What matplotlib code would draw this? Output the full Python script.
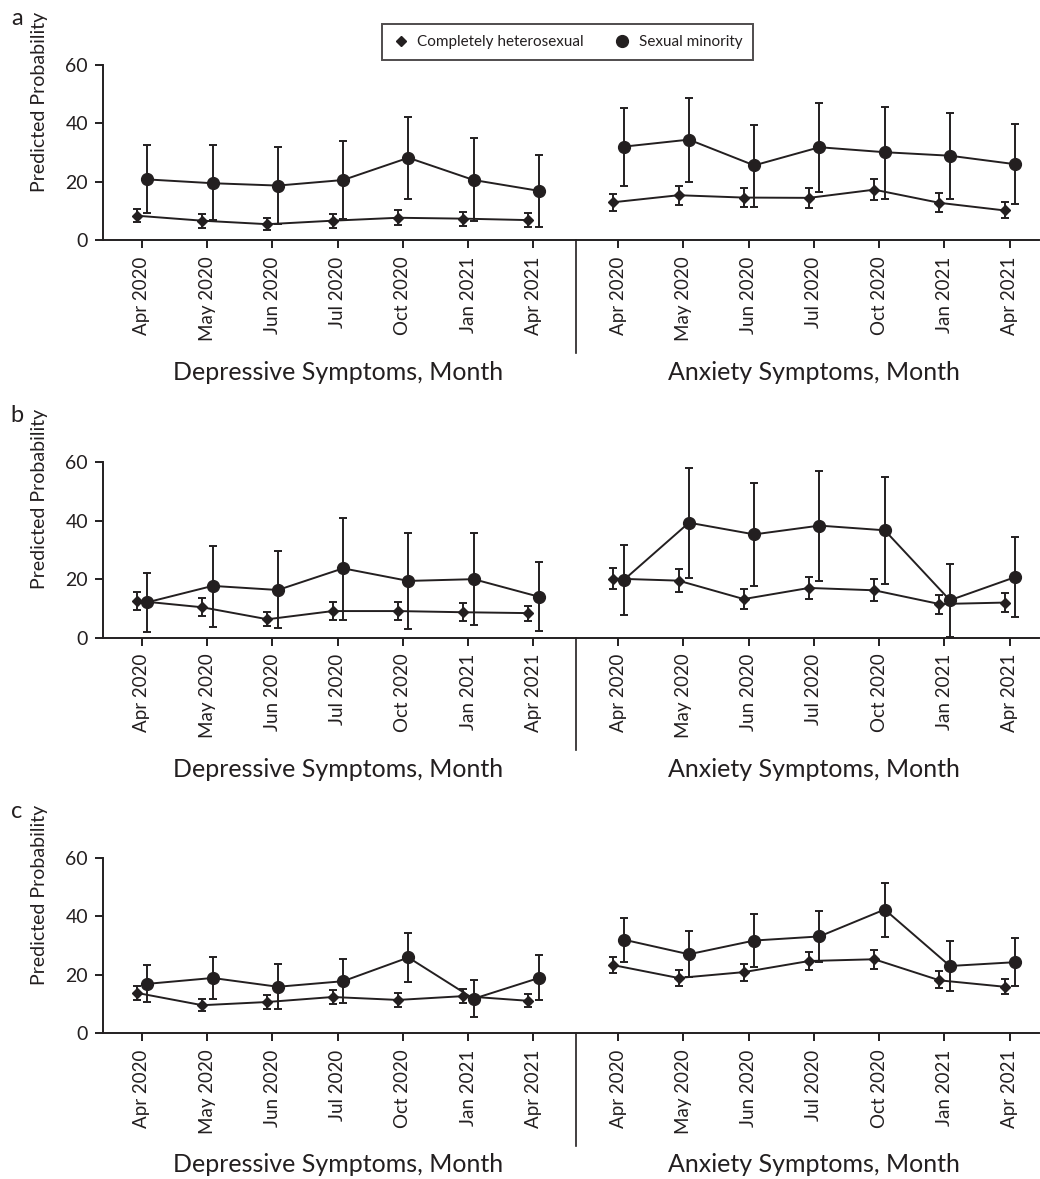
import matplotlib
matplotlib.use("Agg")
import matplotlib.pyplot as plt
import matplotlib.transforms as mtransforms
from matplotlib.lines import Line2D
import numpy as np

plt.rcParams['font.family'] = ['Lato', 'DejaVu Sans']

months = ['Apr 2020', 'May 2020', 'Jun 2020', 'Jul 2020', 'Oct 2020', 'Jan 2021', 'Apr 2021']
groups = ['Depressive Symptoms, Month', 'Anxiety Symptoms, Month']
series_names = ['Completely heterosexual', 'Sexual minority']
panel_names = ['a', 'b', 'c']

# first 7 values = depressive, last 7 = anxiety
a_het = [8.4, 6.7, 5.5, 6.7, 7.7, 7.4, 6.9, 13.0, 15.4, 14.6, 14.5, 17.3, 12.8, 10.2]
a_het_lo = [6.1, 4.3, 3.5, 4.2, 5.1, 4.9, 4.6, 10.1, 12.1, 11.4, 11.0, 13.7, 9.7, 7.7]
a_het_hi = [10.8, 9.0, 7.6, 9.0, 10.2, 9.7, 9.4, 15.8, 18.7, 17.8, 17.8, 20.9, 16.1, 13.1]
a_sm = [20.8, 19.5, 18.7, 20.6, 28.2, 20.6, 16.9, 32.0, 34.4, 25.6, 31.8, 30.1, 28.9, 26.0]
a_sm_lo = [9.4, 6.8, 5.5, 7.2, 14.2, 6.5, 4.6, 18.7, 20.0, 11.5, 16.6, 14.2, 14.1, 12.3]
a_sm_hi = [32.6, 32.4, 31.9, 33.9, 42.1, 35.1, 29.1, 45.2, 48.5, 39.5, 46.8, 45.6, 43.4, 39.6]

b_het = [12.6, 10.4, 6.3, 9.1, 9.1, 8.7, 8.4, 20.2, 19.5, 13.2, 17.0, 16.2, 11.5, 12.0]
b_het_lo = [9.6, 7.3, 3.9, 6.0, 6.0, 5.8, 5.8, 16.5, 15.6, 9.9, 13.3, 12.4, 8.2, 8.8]
b_het_hi = [15.6, 13.6, 8.9, 12.2, 12.2, 11.9, 10.8, 23.8, 23.4, 16.6, 20.7, 20.0, 14.7, 15.3]
b_sm = [12.1, 17.7, 16.3, 23.7, 19.4, 20.0, 14.0, 19.7, 39.3, 35.3, 38.3, 36.7, 12.8, 20.7]
b_sm_lo = [2.0, 3.8, 3.3, 6.1, 2.9, 4.3, 2.3, 7.6, 20.4, 17.8, 19.4, 18.2, 0.2, 7.0]
b_sm_hi = [22.1, 31.4, 29.6, 41.0, 35.9, 35.9, 25.9, 31.7, 57.9, 52.7, 57.0, 55.0, 25.2, 34.5]

c_het = [13.8, 9.6, 10.7, 12.4, 11.4, 12.7, 11.1, 23.3, 18.9, 20.9, 24.7, 25.3, 18.1, 15.9]
c_het_lo = [11.4, 7.5, 8.3, 9.9, 9.1, 10.2, 9.0, 20.5, 16.0, 17.8, 21.5, 21.9, 15.4, 13.4]
c_het_hi = [16.1, 11.8, 13.0, 14.8, 13.8, 15.0, 13.4, 26.1, 21.5, 23.8, 27.9, 28.6, 21.2, 18.7]
c_sm = [16.9, 18.9, 15.9, 17.8, 25.9, 11.8, 18.9, 32.0, 27.0, 31.7, 33.1, 42.3, 23.0, 24.3]
c_sm_lo = [10.6, 11.7, 8.3, 10.4, 17.4, 5.4, 11.3, 24.4, 19.2, 22.7, 24.5, 33.0, 14.5, 16.0]
c_sm_hi = [23.4, 26.0, 23.6, 25.3, 34.2, 18.2, 26.8, 39.5, 34.8, 40.6, 41.9, 51.5, 31.4, 32.7]

panels = [
    (a_het, a_het_lo, a_het_hi, a_sm, a_sm_lo, a_sm_hi),
    (b_het, b_het_lo, b_het_hi, b_sm, b_sm_lo, b_sm_hi),
    (c_het, c_het_lo, c_het_hi, c_sm, c_sm_lo, c_sm_hi),
]

ink = '#231f20'
gap = 1.3
n = len(months)
pos = np.concatenate([np.arange(n), np.arange(n) + n - 1 + gap])
sep_x = n - 1 + gap / 2

fig = plt.figure(figsize=(10.4, 11.79), dpi=100)
W, H = 1040, 1179
bottoms_px = [240.3, 637.7, 1033.3]
height_px = 175.6
left_px = 102.7
ax_w = (1039 - left_px) / W

for k, (het, het_lo, het_hi, sm, sm_lo, sm_hi) in enumerate(panels):
    ax = fig.add_axes([left_px / W, 1 - bottoms_px[k] / H, ax_w, height_px / H])
    for name, y, lo, hi, mk, ms, off in [
        (series_names[0], het, het_lo, het_hi, 'D', 5.5, -0.075),
        (series_names[1], sm, sm_lo, sm_hi, 'o', 8.5, 0.085),
    ]:
        y = np.array(y)
        lo = np.array(lo)
        hi = np.array(hi)
        for sl in [slice(0, n), slice(n, 2 * n)]:
            ax.errorbar(pos[sl] + off, y[sl], yerr=[y[sl] - lo[sl], hi[sl] - y[sl]],
                        fmt=mk, ms=ms, color=ink, ls='-', lw=1.4, elinewidth=1.4,
                        capsize=3.2, capthick=1.4, clip_on=False, zorder=3)
    ax.set_ylim(0, 60)
    ax.set_xlim(-0.6, 13.75)
    ax.set_yticks([0, 20, 40, 60])
    ax.set_xticks(pos)
    ax.set_xticklabels(months * 2, rotation=90)
    for s in ['top', 'right']:
        ax.spines[s].set_visible(False)
    for s in ['left', 'bottom']:
        ax.spines[s].set_linewidth(1.4)
        ax.spines[s].set_color(ink)
    ax.tick_params(axis='both', colors=ink, width=1.4, length=5.5)
    ax.tick_params(axis='y', labelsize=14, pad=5)
    ax.tick_params(axis='x', labelsize=13.5, pad=6)
    trans = mtransforms.blended_transform_factory(ax.transData, ax.transAxes)
    ax.plot([sep_x, sep_x], [0, -0.642], color=ink, lw=1.2, transform=trans, clip_on=False)
    ax.text(np.mean(pos[:n]), -0.75, groups[0], transform=trans, ha='center', va='center',
            fontsize=18, color=ink)
    ax.text(np.mean(pos[n:]), -0.75, groups[1], transform=trans, ha='center', va='center',
            fontsize=18, color=ink)
    ax.text(-0.067, 0.79, 'Predicted Probability', transform=ax.transAxes, rotation=90,
            ha='center', va='center', fontsize=14, color=ink)
    fig.text(17 / W, 1 - (bottoms_px[k] - 222) / H, panel_names[k], ha='center', va='center',
             fontsize=17, color=ink)

handles = [Line2D([], [], marker='D', ms=5.5, color=ink, ls='none'),
           Line2D([], [], marker='o', ms=8.5, color=ink, ls='none')]
leg = fig.legend(handles, series_names, loc='center', bbox_to_anchor=(0.546, 0.9644), ncol=2,
                 frameon=True, fancybox=False, edgecolor=ink, fontsize=11, handlelength=1,
                 handletextpad=0.6, columnspacing=2.0, borderpad=0.7)
leg.get_frame().set_linewidth(1.4)
for t in leg.get_texts():
    t.set_color(ink)

fig.savefig('out.png', dpi=100)
